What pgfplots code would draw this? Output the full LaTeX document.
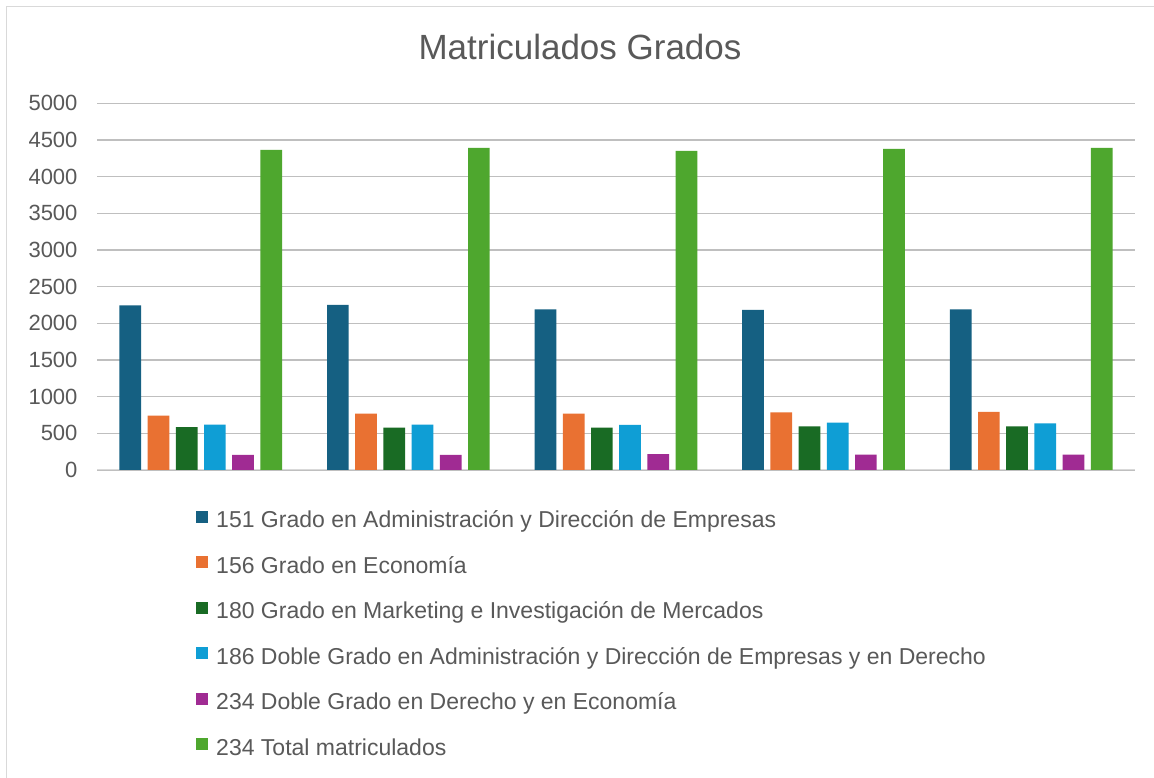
\documentclass[border=0pt]{standalone}
\usepackage{pgfplots}
\pgfplotsset{compat=1.18}
\usepackage{fontspec}
\setmainfont{Liberation Sans}
\definecolor{txt}{HTML}{595959}
\definecolor{grid}{HTML}{D9D9D9}
\definecolor{cA}{HTML}{156082}
\definecolor{cB}{HTML}{E97132}
\definecolor{cC}{HTML}{196B24}
\definecolor{cD}{HTML}{0F9ED5}
\definecolor{cE}{HTML}{A02B93}
\definecolor{cF}{HTML}{4EA72E}
\begin{document}
\begin{tikzpicture}[x=1pt,y=1pt]
\path[use as bounding box] (0,0) rectangle (1154,778);
\fill[white] (0,0) rectangle (1154,778);
\draw[grid,line width=1.5pt] (6.5,0) -- (6.5,771.5) -- (1154,771.5);
\node[txt,font=\fontsize{35}{40}\selectfont,anchor=base] at (580,718) {Matriculados Grados};
\begin{axis}[
  at={(97pt,308pt)}, anchor=origin,
  scale only axis, width=1038pt, height=366.7pt,
  xmin=0.5, xmax=5.5, ymin=0, ymax=5000,
  ytick={0,500,...,5000}, xtick=\empty,
  ymajorgrids, grid style={grid,line width=1.5pt},
  axis line style={draw=none},
  major tick length=0pt,
  /pgf/number format/assume math mode=true,
  /pgf/number format/set thousands separator={},
  yticklabel style={font=\fontsize{22}{26}\selectfont, text=txt, anchor=east, xshift=-16pt},
  ybar=6.5pt, bar width=21.7pt,
  legend cell align=left,
  legend style={at={(0.0954,-0.11)}, anchor=north west, draw=none, fill=none,
    font=\fontsize{23}{26}\selectfont, text=txt, row sep=26.5pt, inner sep=0pt,
    nodes={inner sep=0pt, text height=14pt, text depth=2pt}},
  legend image code/.code={\fill[#1] (0pt,-1pt) rectangle (12pt,11pt);},
  every axis plot/.append style={draw=none},
]
\draw[grid,line width=1.5pt] (rel axis cs:0,0) -- (rel axis cs:1,0);
\addplot[fill=cA] coordinates {(1,2246) (2,2250) (3,2191) (4,2182) (5,2191)};
\addplot[fill=cB] coordinates {(1,741) (2,768) (3,768) (4,786) (5,791)};
\addplot[fill=cC] coordinates {(1,586) (2,577) (3,577) (4,595) (5,595)};
\addplot[fill=cD] coordinates {(1,618) (2,618) (3,614) (4,645) (5,636)};
\addplot[fill=cE] coordinates {(1,205) (2,205) (3,218) (4,209) (5,209)};
\addplot[fill=cF] coordinates {(1,4364) (2,4391) (3,4350) (4,4377) (5,4391)};
\legend{\hspace{8pt}151 Grado en Administración y Dirección de Empresas,
\hspace{8pt}156 Grado en Economía,
\hspace{8pt}180 Grado en Marketing e Investigación de Mercados,
\hspace{8pt}186 Doble Grado en Administración y Dirección de Empresas y en Derecho,
\hspace{8pt}234 Doble Grado en Derecho y en Economía,
\hspace{8pt}234 Total matriculados}
\end{axis}
\end{tikzpicture}
\end{document}
